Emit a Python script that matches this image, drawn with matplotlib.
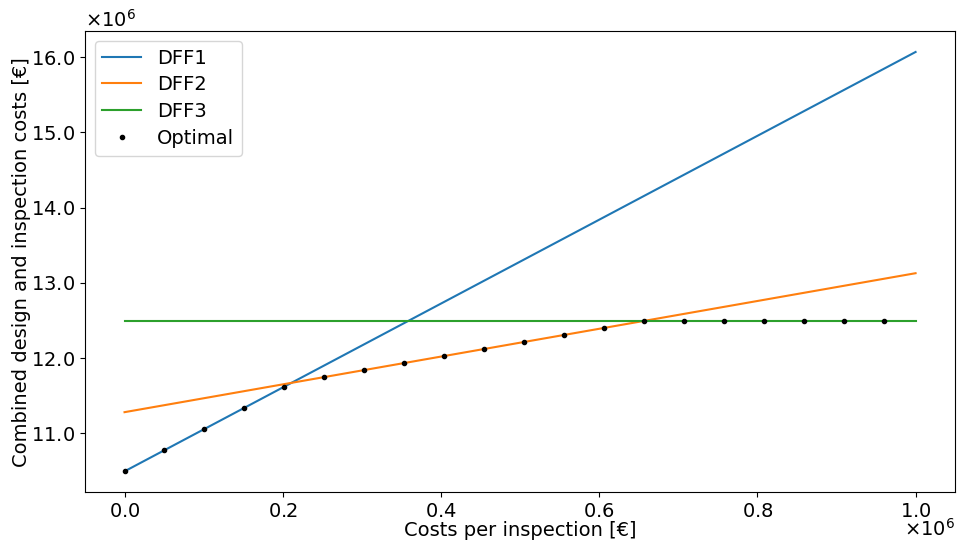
import matplotlib
matplotlib.use("Agg")
import matplotlib.pyplot as plt
from matplotlib.ticker import ScalarFormatter

# line endpoints (straight lines over the inspection cost range)
cost_line = [0.0, 1.0e6]
dff1 = [10.493e6, 16.070e6]
dff2 = [11.280e6, 13.128e6]
dff3 = [12.488e6, 12.488e6]

# optimal (cheapest) design per inspection cost
cost_opt = [0.0, 0.0505e6, 0.1010e6, 0.1515e6, 0.2020e6, 0.2525e6, 0.3030e6,
            0.3535e6, 0.4040e6, 0.4545e6, 0.5051e6, 0.5556e6, 0.6061e6,
            0.6566e6, 0.7071e6, 0.7576e6, 0.8081e6, 0.8586e6, 0.9091e6,
            0.9596e6]
total_opt = [10.493e6, 10.775e6, 11.056e6, 11.338e6, 11.620e6, 11.747e6,
             11.840e6, 11.933e6, 12.027e6, 12.120e6, 12.213e6, 12.307e6,
             12.400e6, 12.488e6, 12.488e6, 12.488e6, 12.488e6, 12.488e6,
             12.488e6, 12.488e6]


class FixedOrderFormatter(ScalarFormatter):
    def __init__(self, order, fformat="%.1f"):
        self.oom = order
        self.fformat = fformat
        super().__init__(useMathText=True)

    def _set_order_of_magnitude(self):
        self.orderOfMagnitude = self.oom

    def _set_format(self):
        self.format = r"$\mathdefault{%s}$" % self.fformat


plt.rcParams.update({"font.size": 14})

fig = plt.figure(figsize=(9.58, 5.44), dpi=100)
ax = fig.add_axes([0.0887, 0.095, 0.9083, 0.848])

ax.plot(cost_line, dff1, label="DFF1")
ax.plot(cost_line, dff2, label="DFF2")
ax.plot(cost_line, dff3, label="DFF3")
ax.plot(cost_opt, total_opt, "k.", label="Optimal")

ax.xaxis.set_major_formatter(FixedOrderFormatter(6))
ax.yaxis.set_major_formatter(FixedOrderFormatter(6))
# pull the x multiplier up under the last tick label
ax.xaxis.OFFSETTEXTPAD = -2

ax.set_xlabel("Costs per inspection [€]", labelpad=0)
ax.set_ylabel("Combined design and inspection costs [€]", labelpad=0)
ax.legend(loc="upper left", labelspacing=0.4)

fig.savefig("out.png")
